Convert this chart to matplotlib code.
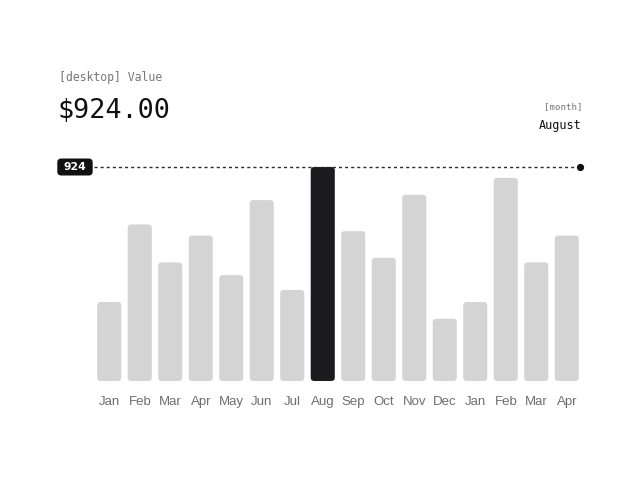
import matplotlib
matplotlib.use("Agg")
import matplotlib.pyplot as plt
from matplotlib.patches import FancyBboxPatch
import matplotlib.transforms as mtransforms

months = ["Jan", "Feb", "Mar", "Apr", "May", "Jun", "Jul", "Aug",
          "Sep", "Oct", "Nov", "Dec", "Jan", "Feb", "Mar", "Apr"]
values = [341, 676, 512, 628, 457, 781, 393, 924,
          647, 532, 804, 269, 341, 877, 512, 628]
active_index = 7
active_month_name = "August"
kpi_label = "[desktop] Value"
month_label = "[month]"

W, H = 640, 480
fig = plt.figure(figsize=(W / 100, H / 100), dpi=100)
fig.patch.set_facecolor("white")

# axes placement in pixels
ax_left, ax_right, ax_bottom, ax_top = 94, 582, 381, 150
ax = fig.add_axes([ax_left / W, 1 - ax_bottom / H,
                   (ax_right - ax_left) / W, (ax_bottom - ax_top) / H])

active_val = values[active_index]
n = len(values)
xlim = (-0.5, n - 0.5)
# top of active bar lands at pixel y=167
ymax = active_val * (ax_bottom - ax_top) / (ax_bottom - 167)
ax.set_xlim(*xlim)
ax.set_ylim(0, ymax)

xu_per_px = (xlim[1] - xlim[0]) / (ax_right - ax_left)
yu_per_px = ymax / (ax_bottom - ax_top)
aspect = yu_per_px / xu_per_px

bar_w = 0.79
radius_px = 3.5
for i, v in enumerate(values):
    color = "#1c1c1e" if i == active_index else "#d4d4d4"
    p = FancyBboxPatch((i - bar_w / 2, 0), bar_w, v,
                       boxstyle=f"round,pad=0,rounding_size={radius_px * xu_per_px}",
                       mutation_aspect=aspect,
                       facecolor=color, edgecolor="none")
    ax.add_patch(p)

# dashed reference line with end dot
ax.axhline(active_val, xmin=0, xmax=0.996, color="#2a2a2a", lw=1.0,
           linestyle=(0, (2.2, 2.2)), clip_on=False, zorder=3)
ax.plot([xlim[0] + 0.996 * (xlim[1] - xlim[0])], [active_val], "o",
        color="#111111", ms=4.2, clip_on=False, zorder=4)

# value badge at the left (x in figure pixels, y in data)
trans = mtransforms.blended_transform_factory(
    mtransforms.Affine2D().scale(1.0 / W, 1.0) + fig.transFigure, ax.transData)
b_x0, b_x1, b_h = 57.3, 92.7, 17.0
badge_aspect = (b_h * yu_per_px) / b_h
badge = FancyBboxPatch((b_x0, active_val - b_h * yu_per_px / 2), b_x1 - b_x0,
                       b_h * yu_per_px,
                       boxstyle="round,pad=0,rounding_size=4",
                       mutation_aspect=badge_aspect,
                       transform=trans, facecolor="#111111", edgecolor="none",
                       clip_on=False, zorder=5)
ax.add_patch(badge)
ax.text((b_x0 + b_x1) / 2, active_val, f"{active_val}", transform=trans,
        ha="center", va="center", color="white", fontsize=7.8,
        fontweight="bold", family="DejaVu Sans", clip_on=False, zorder=6)

ax.set_xticks(range(n))
ax.set_xticklabels(months, family="Liberation Sans", fontsize=9.5, color="#6e6e6e")
ax.tick_params(axis="x", length=0, pad=11)
ax.set_yticks([])
for s in ax.spines.values():
    s.set_visible(False)
ax.patch.set_alpha(0)

# header texts
fig.text(59 / W, 1 - 78 / H, kpi_label, family="DejaVu Sans Mono",
         fontsize=8.3, color="#777777", ha="left", va="center")
fig.text(57 / W, 1 - 111 / H, f"${active_val:,.2f}", family="DejaVu Sans Mono",
         fontsize=19.3, color="#111111", ha="left", va="center")
fig.text(582 / W, 1 - 107 / H, month_label, family="DejaVu Sans Mono",
         fontsize=6.6, color="#777777", ha="right", va="center")
fig.text(582 / W, 1 - 126 / H, active_month_name, family="DejaVu Sans Mono",
         fontsize=8.5, color="#111111", ha="right", va="center")

fig.savefig("out.png", dpi=100, facecolor="white")
